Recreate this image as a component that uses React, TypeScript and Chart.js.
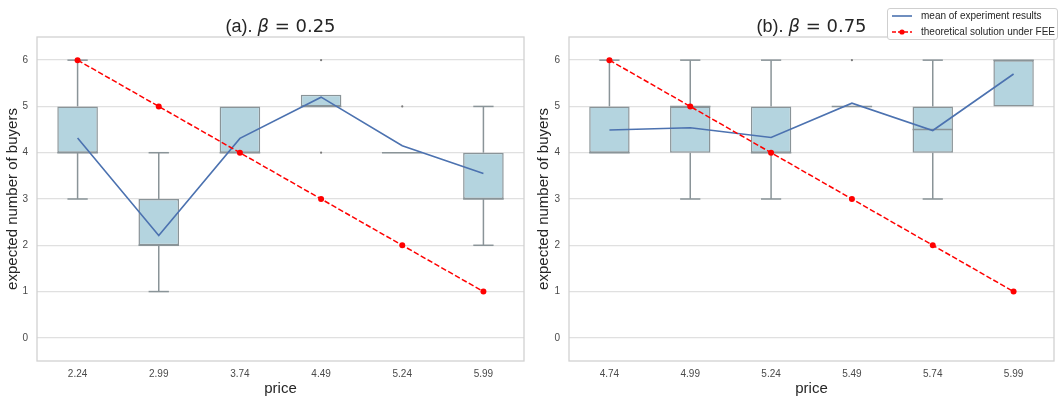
import React, { useEffect, useRef } from 'react';
import { Chart, registerables } from 'chart.js';

Chart.register(...registerables);

// ---------- data: panel (a) beta = 0.25 ----------
const pricesA = ['2.24', '2.99', '3.74', '4.49', '5.24', '5.99'];
const whiskerLowA = [3, 1, 4, 5, 4, 2];
const q1A = [4, 2, 4, 5, 4, 3];
const medianA = [4, 2, 4, 5, 4, 3];
const q3A = [5, 3, 5, 5.25, 4, 4];
const whiskerHighA = [6, 4, 5, 5.25, 4, 5];
const meanA = [4.32, 2.21, 4.31, 5.2, 4.15, 3.55];
const theoryA = [6, 5, 4, 3, 2, 1];
const fliersA = [
  { x: '4.49', y: 6 },
  { x: '4.49', y: 4 },
  { x: '5.24', y: 5 },
];

// ---------- data: panel (b) beta = 0.75 ----------
const pricesB = ['4.74', '4.99', '5.24', '5.49', '5.74', '5.99'];
const whiskerLowB = [4, 3, 3, 5, 3, 5];
const q1B = [4, 4, 4, 5, 4, 5];
const medianB = [4, 5, 4, 5, 4.5, 6];
const q3B = [5, 5, 5, 5, 5, 6];
const whiskerHighB = [6, 6, 6, 5, 6, 6];
const meanB = [4.49, 4.54, 4.33, 5.07, 4.48, 5.7];
const theoryB = [6, 5, 4, 3, 2, 1];
const fliersB = [{ x: '5.49', y: 6 }];

const yTicks = [0, 1, 2, 3, 4, 5, 6];
const yMin = -0.5;
const yMax = 6.5;

const titleA = { prefix: '(a). ', symbol: 'β', rest: ' = 0.25' };
const titleB = { prefix: '(b). ', symbol: 'β', rest: ' = 0.75' };

const legendLabels = ['mean of experiment results', 'theoretical solution under FEE'];

// ---------- styles ----------
const BOX_FILL = '#b4d4df';
const BOX_EDGE = '#8a9498';
const MEAN_COLOR = '#4c72b0';
const THEORY_COLOR = '#ff0000';
const GRID_COLOR = '#e0e0e0';
const FRAME_COLOR = '#d2d2d2';
const TEXT_COLOR = '#262626';
const TICK_COLOR = '#4a4a4a';
const SANS = '"Liberation Sans", Arial, Helvetica, sans-serif';

const MEAN_INDEX = 1;

const boxPlugin = {
  id: 'boxWhiskers',
  beforeDatasetsDraw(chart: any) {
    const { ctx, chartArea } = chart;
    ctx.save();
    ctx.strokeStyle = FRAME_COLOR;
    ctx.lineWidth = 1.3;
    ctx.strokeRect(chartArea.left, chartArea.top, chartArea.right - chartArea.left, chartArea.bottom - chartArea.top);
    ctx.restore();
  },
  beforeDatasetDraw(chart: any, args: any, opts: any) {
    if (args.index !== MEAN_INDEX) return;
    const { ctx } = chart;
    const xs = chart.scales.x;
    const ys = chart.scales.y;
    const meta = chart.getDatasetMeta(0);
    ctx.save();
    ctx.strokeStyle = BOX_EDGE;
    ctx.lineWidth = 1.5;
    const n = opts.q1.length;
    for (let i = 0; i < n; i++) {
      const cx = xs.getPixelForValue(i);
      const bw = meta.data[i] ? meta.data[i].width : 40;
      const cap = bw / 4;
      const seg = (x1: number, y1: number, x2: number, y2: number) => {
        ctx.beginPath();
        ctx.moveTo(x1, y1);
        ctx.lineTo(x2, y2);
        ctx.stroke();
      };
      if (opts.hi[i] > opts.q3[i]) {
        seg(cx, ys.getPixelForValue(opts.q3[i]), cx, ys.getPixelForValue(opts.hi[i]));
        const yh = ys.getPixelForValue(opts.hi[i]);
        seg(cx - cap, yh, cx + cap, yh);
      }
      if (opts.lo[i] < opts.q1[i]) {
        seg(cx, ys.getPixelForValue(opts.q1[i]), cx, ys.getPixelForValue(opts.lo[i]));
        const yl = ys.getPixelForValue(opts.lo[i]);
        seg(cx - cap, yl, cx + cap, yl);
      }
      const ym = ys.getPixelForValue(opts.med[i]);
      seg(cx - bw / 2, ym, cx + bw / 2, ym);
    }
    ctx.restore();
  },
  afterDraw(chart: any, _args: any, opts: any) {
    const { ctx, chartArea } = chart;
    const t = opts.title;
    if (!t) return;
    const segs = [
      { text: t.prefix, font: `18px ${SANS}` },
      { text: t.symbol, font: `italic 18px "DejaVu Sans", sans-serif` },
      { text: t.rest, font: `18px "DejaVu Sans", sans-serif` },
    ];
    ctx.save();
    let total = 0;
    const widths = segs.map((s) => {
      ctx.font = s.font;
      const w = ctx.measureText(s.text).width;
      total += w;
      return w;
    });
    let x = (chartArea.left + chartArea.right) / 2 - total / 2;
    ctx.fillStyle = TEXT_COLOR;
    ctx.textBaseline = 'middle';
    ctx.textAlign = 'left';
    segs.forEach((s, i) => {
      ctx.font = s.font;
      ctx.fillText(s.text, x, 27);
      x += widths[i];
    });
    ctx.restore();
  },
};

type PanelProps = {
  left: number;
  labels: string[];
  lo: number[];
  q1: number[];
  med: number[];
  q3: number[];
  hi: number[];
  mean: number[];
  theory: number[];
  fliers: { x: string; y: number }[];
  title: { prefix: string; symbol: string; rest: string };
  yWidth: number;
  padRight: number;
};

function BoxPanel(p: PanelProps) {
  const ref = useRef<HTMLCanvasElement>(null);
  useEffect(() => {
    if (!ref.current) return;
    const chart = new Chart(ref.current, {
      type: 'bar',
      data: {
        labels: p.labels,
        datasets: [
          {
            type: 'bar',
            label: 'box',
            data: p.q1.map((v, i) => [v, p.q3[i]]) as any,
            backgroundColor: BOX_FILL,
            borderColor: BOX_EDGE,
            borderWidth: 1.5,
            borderSkipped: false,
            barPercentage: 0.5,
            categoryPercentage: 1,
            order: 4,
          },
          {
            type: 'line',
            label: legendLabels[0],
            data: p.mean,
            borderColor: MEAN_COLOR,
            borderWidth: 1.6,
            pointRadius: 0,
            fill: false,
            tension: 0,
            order: 2,
          },
          {
            type: 'line',
            label: legendLabels[1],
            data: p.theory,
            borderColor: THEORY_COLOR,
            borderWidth: 1.5,
            borderDash: [5.5, 2.4],
            pointRadius: 3,
            pointBorderWidth: 0,
            pointBackgroundColor: THEORY_COLOR,
            fill: false,
            tension: 0,
            order: 1,
          },
          {
            type: 'line',
            label: 'fliers',
            data: p.fliers as any,
            showLine: false,
            pointRadius: 1.1,
            pointBorderWidth: 0,
            pointBackgroundColor: '#7a7a7a',
            order: 3,
          },
        ],
      },
      options: {
        responsive: false,
        animation: false,
        devicePixelRatio: 1,
        layout: { padding: { top: 37, right: p.padRight, left: 0, bottom: 0 } },
        plugins: {
          legend: { display: false },
          tooltip: { enabled: false },
          title: { display: false },
          boxWhiskers: {
            lo: p.lo,
            q1: p.q1,
            med: p.med,
            q3: p.q3,
            hi: p.hi,
            title: p.title,
          },
        } as any,
        scales: {
          x: {
            type: 'category',
            offset: true,
            grid: { display: false, drawTicks: false },
            border: { display: false },
            ticks: {
              color: TICK_COLOR,
              font: { family: SANS, size: 10 },
              padding: 7,
              maxRotation: 0,
            },
            title: {
              display: true,
              text: 'price',
              color: TEXT_COLOR,
              font: { family: SANS, size: 15, lineHeight: 1 },
              padding: { top: 0, bottom: 0 },
            },
            afterFit: (s: any) => {
              s.height = 35;
            },
          },
          y: {
            type: 'linear',
            min: yMin,
            max: yMax,
            grid: { color: GRID_COLOR, lineWidth: 1.3, drawTicks: false },
            border: { display: false },
            ticks: {
              color: TICK_COLOR,
              font: { family: SANS, size: 10 },
              padding: 9,
            },
            afterBuildTicks: (s: any) => {
              s.ticks = yTicks.map((v) => ({ value: v }));
            },
            title: {
              display: true,
              text: 'expected number of buyers',
              color: TEXT_COLOR,
              font: { family: SANS, size: 15, lineHeight: 1.2 },
              padding: { top: 3.5, bottom: 0 },
            },
            afterFit: (s: any) => {
              s.width = p.yWidth;
            },
          },
        },
      },
      plugins: [boxPlugin as any],
    });
    return () => chart.destroy();
  }, []);
  return (
    <canvas
      ref={ref}
      width={531}
      height={396}
      style={{ position: 'absolute', left: p.left, top: 0, width: 531, height: 396 }}
    />
  );
}

function Legend() {
  return (
    <div
      style={{
        position: 'absolute',
        left: 887,
        top: 8,
        width: 169,
        height: 30,
        border: '1px solid #cfcfcf',
        borderRadius: 3,
        background: 'rgba(255,255,255,0.85)',
        fontFamily: SANS,
        fontSize: 10,
        color: TEXT_COLOR,
        lineHeight: '12px',
        whiteSpace: 'nowrap',
      }}
    >
      <svg width={22} height={10} style={{ position: 'absolute', left: 3, top: 2 }}>
        <line x1={1} y1={5} x2={21} y2={5} stroke={MEAN_COLOR} strokeWidth={1.6} />
      </svg>
      <span style={{ position: 'absolute', left: 33, top: 1 }}>{legendLabels[0]}</span>
      <svg width={22} height={10} style={{ position: 'absolute', left: 3, top: 18 }}>
        <line x1={1} y1={5} x2={21} y2={5} stroke={THEORY_COLOR} strokeWidth={1.5} strokeDasharray="4,2" />
        <circle cx={11} cy={5} r={2.6} fill={THEORY_COLOR} />
      </svg>
      <span style={{ position: 'absolute', left: 33, top: 17 }}>{legendLabels[1]}</span>
    </div>
  );
}

export default function App() {
  return (
    <div style={{ position: 'absolute', left: 0, top: 0, width: 1062, height: 396, background: '#ffffff', overflow: 'hidden' }}>
      <BoxPanel
        left={0}
        labels={pricesA}
        lo={whiskerLowA}
        q1={q1A}
        med={medianA}
        q3={q3A}
        hi={whiskerHighA}
        mean={meanA}
        theory={theoryA}
        fliers={fliersA}
        title={titleA}
        yWidth={37}
        padRight={7}
      />
      <BoxPanel
        left={531}
        labels={pricesB}
        lo={whiskerLowB}
        q1={q1B}
        med={medianB}
        q3={q3B}
        hi={whiskerHighB}
        mean={meanB}
        theory={theoryB}
        fliers={fliersB}
        title={titleB}
        yWidth={38}
        padRight={8}
      />
      <Legend />
    </div>
  );
}
